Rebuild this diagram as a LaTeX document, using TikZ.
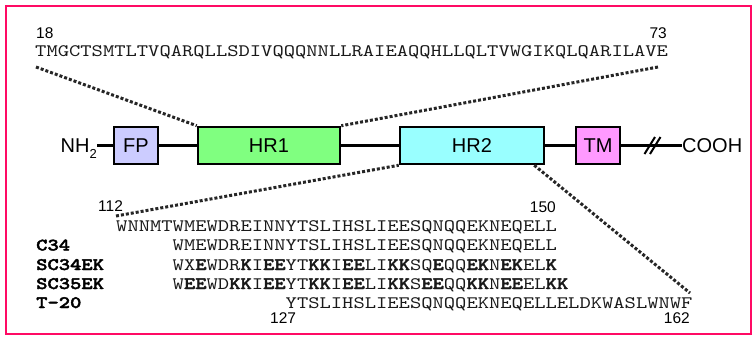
\documentclass[tikz,border=0pt]{standalone}
\usepackage{fontspec}
\setmainfont{Liberation Sans}
\newfontfamily\seqfont{lmmono10-regular}[Extension=.otf, FakeStretch=1.23, BoldFont=lmmonolt10-bold, BoldFeatures={FakeBold=2.2}]
\newcommand\bb[1]{\textbf{#1}}
\definecolor{framecol}{RGB}{255,10,100}
\definecolor{fpcol}{RGB}{204,204,255}
\definecolor{hronecol}{RGB}{128,255,128}
\definecolor{hrtwocol}{RGB}{153,255,255}
\definecolor{tmcol}{RGB}{255,153,255}
\begin{document}
\begin{tikzpicture}[x=1pt,y=-1pt,
  seq/.style={font=\seqfont\fontsize{17.5}{20}\selectfont, inner sep=0, anchor=base west, text=black!90},
  lbl/.style={font=\seqfont\bfseries\fontsize{17.5}{20}\selectfont, inner sep=0, anchor=base west},
  num/.style={font=\fontsize{15.5}{15.5}\selectfont, inner sep=0},
  domainbox/.style={draw=black, line width=2.5pt, minimum height=37pt, inner sep=0, font=\fontsize{20}{20}\selectfont},
  backbone/.style={line width=2.5pt},
  dots/.style={line width=3pt, dash pattern=on 3pt off 2pt, black!85},
]
\useasboundingbox (0,0) rectangle (756,338);
\draw[framecol, line width=2.5pt] (6,6) rectangle (751,334);

% top sequence
\node[num, anchor=base west] (n18) at (36,38) {18};
\node[num, anchor=base east] (n73) at (667,38) {73};
\node[seq] (topseq) at (35,56.5) {TMGCTSMTLTVQARQLLSDIVQQQNNLLRAIEAQQHLLQLTVWGIKQLQARILAVE};
\coordinate (tl) at (36,67);
\coordinate (tr) at (658,67);

% domains
\node[domainbox, fill=fpcol, minimum width=44pt] (fp) at (136,145.5) {FP};
\node[domainbox, fill=hronecol, minimum width=142pt] (hr1) at (269,145.5) {HR1};
\node[domainbox, fill=hrtwocol, minimum width=144pt] (hr2) at (472,145.5) {HR2};
\node[domainbox, fill=tmcol, minimum width=44pt] (tm) at (598,145.5) {TM};
\node[inner sep=0, anchor=east, font=\fontsize{20}{20}\selectfont] (nh) at (97,145.5) {NH\smash{\raisebox{-6pt}{\fontsize{13}{13}\selectfont 2}}};
\node[inner sep=0, anchor=west, font=\fontsize{20}{20}\selectfont] (cooh) at (682,145.5) {COOH};

\draw[backbone] (nh.east) -- (fp.west);
\draw[backbone] (fp.east) -- (hr1.west);
\draw[backbone] (hr1.east) -- (hr2.west);
\draw[backbone] (hr2.east) -- (tm.west);
\draw[backbone] (tm.east) -- (cooh.west);
\coordinate (brk) at (652.5,145.5);
\draw[line width=2pt] ([shift={(-8,8.5)}]brk) -- ([shift={(2.5,-8.5)}]brk);
\draw[line width=2pt] ([shift={(-2.5,8.5)}]brk) -- ([shift={(8,-8.5)}]brk);

\draw[dots] (tl) -- (hr1.north west);
\draw[dots] (tr) -- (hr1.north east);

% bottom sequences
\node[num, anchor=base west] (n112) at (98,211.5) {112};
\node[num, anchor=base east] (n150) at (556,212) {150};
\node[seq] (row0) at (116,231) {WNNMTWMEWDREINNYTSLIHSLIEESQNQQEKNEQELL};
\node[lbl] (l1) at (36,250.5) {C34};
\node[seq] (row1) at (172.5,250.5) {WMEWDREINNYTSLIHSLIEESQNQQEKNEQELL};
\node[lbl] (l2) at (36,270) {SC34EK};
\node[seq] (row2) at (172.5,270) {WX\bb{E}WDR\bb{K}I\bb{EE}YT\bb{KK}I\bb{EE}LI\bb{KK}SQ\bb{E}QQ\bb{EK}N\bb{EK}EL\bb{K}};
\node[lbl] (l3) at (36,289) {SC35EK};
\node[seq] (row3) at (172.5,289) {W\bb{EE}WD\bb{KK}I\bb{EE}YT\bb{KK}I\bb{EE}LI\bb{KK}S\bb{EE}QQ\bb{KK}N\bb{EE}EL\bb{KK}};
\node[lbl] (l4) at (36,308) {T-20};
\node[seq] (row4) at (285.5,308) {YTSLIHSLIEESQNQQEKNEQELLELDKWASLWNWF};
\node[num, anchor=base west] (n127) at (270,323) {127};
\node[num, anchor=base east] (n162) at (690,323) {162};

\coordinate (bl) at (116,216);
\coordinate (br) at (690,293);
\draw[dots] (bl) -- (hr2.south west);
\draw[dots] ([xshift=-11pt]hr2.south east) -- (br);
\end{tikzpicture}
\end{document}
